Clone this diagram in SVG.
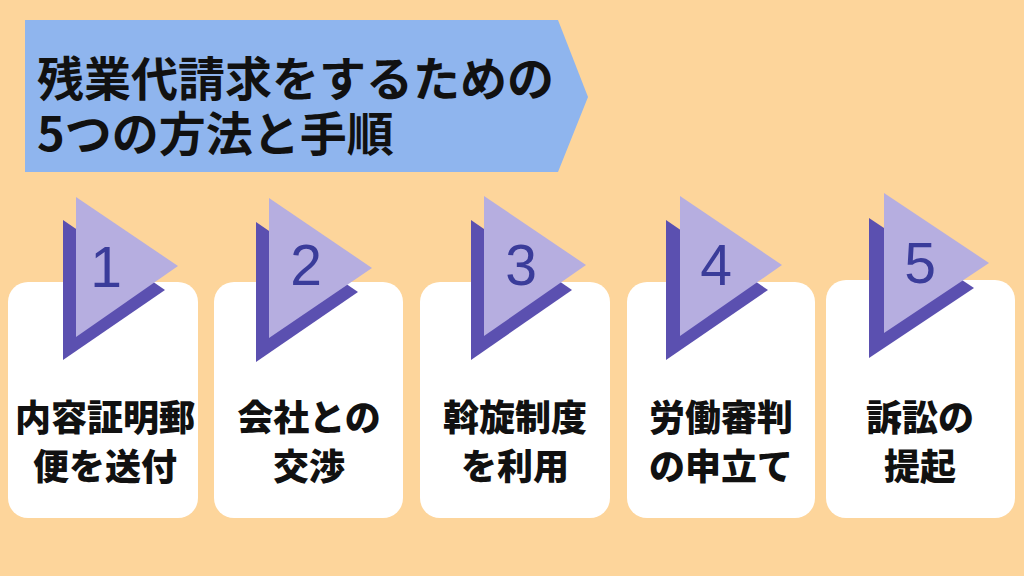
<svg xmlns="http://www.w3.org/2000/svg" width="1024" height="576" viewBox="0 0 1024 576">
<style>
.card{fill:#ffffff}
.dark{fill:#5B50B0}
.light{fill:#B6AEE0}
.num{font-family:"Liberation Sans",Arial,sans-serif;font-size:57px;fill:#3A3C9A;text-anchor:middle}
.lbl{font-family:"Noto Sans CJK JP",sans-serif;font-weight:900;font-size:36px;fill:#111111;text-anchor:middle}
.title{font-family:"Noto Sans CJK JP",sans-serif;font-weight:700;font-size:47px;fill:#111111}
</style>
<rect x="0" y="0" width="1024" height="576" fill="#FDD59B"/>
<g id="title">
<polygon points="25,20 558,20 588,97 558,172 25,172" fill="#8FB5EE"/>
<text class="title" x="37" y="96">残業代請求をするための</text>
<text class="title" x="37" y="151">5つの方法と手順</text>
</g>
<g id="connectors"></g>
<g id="step1">
<rect class="card" x="8" y="282" width="190" height="236" rx="20"/>
<polygon class="dark" points="63,220 63,360 165,290"/>
<polygon class="light" points="76,197 76,337 178,266"/>
<text class="num" x="106" y="287">1</text>
<text class="lbl" x="105" y="431">内容証明郵</text>
<text class="lbl" x="105" y="480">便を送付</text>
</g>
<g id="step2">
<rect class="card" x="214" y="282" width="189" height="236" rx="20"/>
<polygon class="dark" points="256,222 256,362 358,292"/>
<polygon class="light" points="269,198 269,338 372,268"/>
<text class="num" x="306" y="285">2</text>
<text class="lbl" x="309" y="431">会社との</text>
<text class="lbl" x="309" y="480">交渉</text>
</g>
<g id="step3">
<rect class="card" x="420" y="282" width="190" height="236" rx="20"/>
<polygon class="dark" points="471,220 471,360 572,290"/>
<polygon class="light" points="484,196 484,336 586,265"/>
<text class="num" x="521" y="285">3</text>
<text class="lbl" x="515" y="431">斡旋制度</text>
<text class="lbl" x="515" y="480">を利用</text>
</g>
<g id="step4">
<rect class="card" x="627" y="282" width="188" height="236" rx="20"/>
<polygon class="dark" points="666,220 666,360 768,290"/>
<polygon class="light" points="680,196 680,336 782,265"/>
<text class="num" x="716" y="285">4</text>
<text class="lbl" x="721" y="431">労働審判</text>
<text class="lbl" x="721" y="480">の申立て</text>
</g>
<g id="step5">
<rect class="card" x="826" y="280" width="189" height="238" rx="20"/>
<polygon class="dark" points="869,218 869,358 974,288"/>
<polygon class="light" points="884,193 884,333 989,263"/>
<text class="num" x="920" y="283">5</text>
<text class="lbl" x="920" y="431">訴訟の</text>
<text class="lbl" x="920" y="480">提起</text>
</g>
</svg>
